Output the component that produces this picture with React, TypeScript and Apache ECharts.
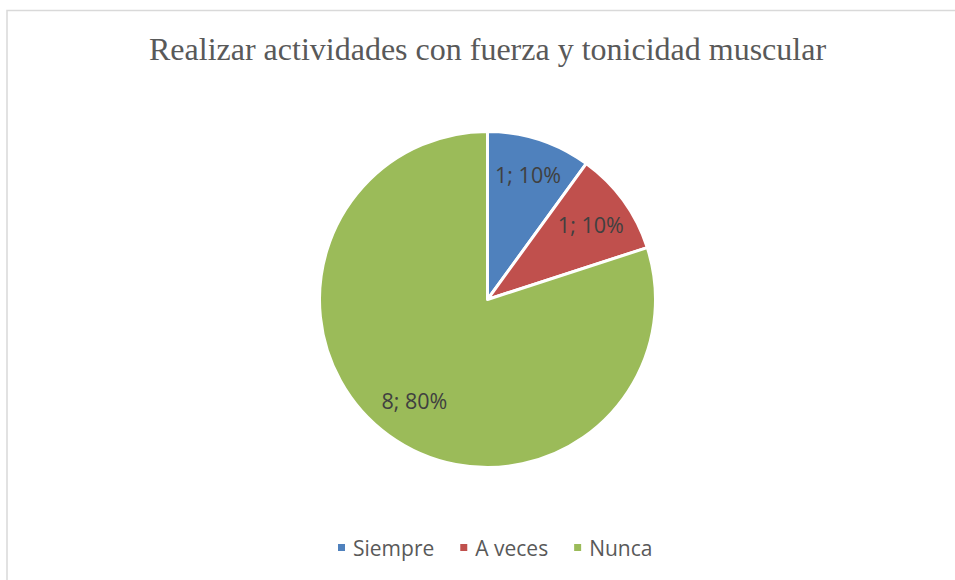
import React, { useEffect, useRef } from "react";
import * as echarts from "echarts";

const titleText = "Realizar actividades con fuerza y tonicidad muscular";
const categories = ["Siempre", "A veces", "Nunca"];
const values = [1, 1, 8];
const colors = ["#4f81bd", "#c0504d", "#9bbb59"];
// radial fraction of the radius at which each label sits
const labelRadiusFrac = [0.78, 0.76, 0.74];

export default function App() {
  const ref = useRef<HTMLDivElement>(null);
  useEffect(() => {
    if (!ref.current) return;
    const chart = echarts.init(ref.current, null, { renderer: "svg" });
    const cx = 487.5;
    const cy = 299.5;
    const R = 168;
    const total = values.reduce((a, b) => a + b, 0);
    const mids: number[] = [];
    let acc = 0;
    values.forEach((v) => {
      mids.push(((acc + v / 2) / total) * Math.PI * 2);
      acc += v;
    });
    chart.setOption({
      animation: false,
      backgroundColor: "#ffffff",
      title: {
        text: titleText,
        left: 149,
        top: 33,
        padding: 0,
        textStyle: {
          fontFamily: "Liberation Serif",
          fontSize: 32,
          fontWeight: "normal",
          color: "#595959",
        },
      },
      graphic: [
        {
          type: "rect",
          shape: { x: 7, y: 10.5, width: 1200, height: 1200 },
          style: { fill: "none", stroke: "#d9d9d9", lineWidth: 1.5 },
          silent: true,
        },
      ],
      legend: {
        bottom: 17,
        left: 331,
        icon: "rect",
        itemWidth: 9,
        itemHeight: 9,
        itemGap: 24,
        data: categories,
        textStyle: {
          fontFamily: "Open Sans",
          fontSize: 21,
          color: "#595959",
          padding: [0, 0, 0, 2],
        },
      },
      series: [
        {
          type: "pie",
          center: [cx, cy],
          radius: [0, R],
          startAngle: 90,
          clockwise: true,
          itemStyle: { borderColor: "#ffffff", borderWidth: 3 },
          label: {
            show: true,
            position: "inside",
            formatter: (p: any) => `${p.value}; ${Math.round(p.percent)}%`,
            fontFamily: "Open Sans",
            fontSize: 21.5,
            color: "#404040",
          },
          labelLine: { show: false },
          labelLayout: (params: any) => {
            const i = params.dataIndex;
            const a = mids[i];
            const r = R * labelRadiusFrac[i];
            return {
              x: cx + r * Math.sin(a),
              y: cy - r * Math.cos(a),
              align: "center",
              verticalAlign: "middle",
            };
          },
          data: categories.map((name, i) => ({
            name,
            value: values[i],
            itemStyle: { color: colors[i] },
          })),
        },
      ],
    });
    return () => chart.dispose();
  }, []);
  return (
    <div
      ref={ref}
      style={{ position: "absolute", left: 0, top: 0, width: 955, height: 580 }}
    />
  );
}
